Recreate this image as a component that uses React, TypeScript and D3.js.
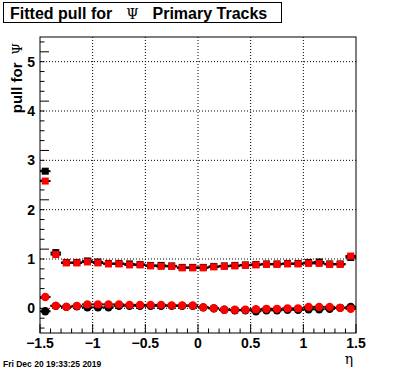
import React from "react";
import * as d3 from "d3";

// eta bins: 30 bins of width 0.1 between -1.5 and 1.5
const binEdges = d3.range(-1.5, 1.5001, 0.1);
const binCenters = binEdges.slice(0, -1).map((e, i) => (e + binEdges[i + 1]) / 2);

// fitted sigma of the pull (squares)
const sigmaBlack = [
  2.78, 1.13, 0.93, 0.93, 0.96, 0.94, 0.91, 0.91, 0.9, 0.89, 0.87, 0.87, 0.86, 0.83, 0.83,
  0.83, 0.85, 0.86, 0.87, 0.88, 0.89, 0.9, 0.9, 0.91, 0.91, 0.93, 0.94, 0.9, 0.9, 1.03,
];
const sigmaRed = [
  2.58, 1.09, 0.92, 0.92, 0.94, 0.92, 0.9, 0.9, 0.88, 0.88, 0.86, 0.85, 0.85, 0.82, 0.82,
  0.82, 0.84, 0.85, 0.86, 0.87, 0.88, 0.89, 0.89, 0.9, 0.9, 0.91, 0.91, 0.89, 0.89, 1.06,
];
// fitted mean of the pull (circles)
const meanBlack = [
  -0.06, 0.05, 0.03, 0.04, 0.02, 0.02, 0.02, 0.05, 0.05, 0.05, 0.05, 0.05, 0.05, 0.05, 0.05,
  0.02, 0.0, -0.03, -0.04, -0.04, -0.06, -0.04, -0.04, -0.03, -0.03, -0.02, -0.02, -0.01, 0.01, 0.03,
];
const meanRed = [
  0.23, 0.05, 0.03, 0.05, 0.08, 0.08, 0.08, 0.08, 0.07, 0.07, 0.07, 0.07, 0.06, 0.06, 0.06,
  0.02, 0.0, -0.03, -0.03, -0.03, -0.02, -0.01, -0.01, 0.0, 0.0, 0.03, 0.03, 0.03, 0.01, -0.01,
];

const xMajor = [-1.5, -1, -0.5, 0, 0.5, 1, 1.5];
const yMajor = [0, 1, 2, 3, 4, 5];

const W = 396;
const H = 372;
const left = 40;
const right = 356;
const top = 37;
const bottom = 333;

const fmt = (v: number) => (v < 0 ? "\u2212" + Math.abs(v) : String(v));

export default function App() {
  const x = d3.scaleLinear().domain([-1.5, 1.5]).range([left, right]);
  const y = d3.scaleLinear().domain([-0.5, 5.5]).range([bottom, top]);
  const xMinor = d3.range(-15, 16).map((i) => i / 10);
  const yMinor = d3.range(-2, 28).map((i) => i / 5);
  const half = (x(0.1) - x(0)) / 2;
  const font = "'Liberation Sans', Arial, sans-serif";
  const serif = "'DejaVu Serif', serif";
  const sq = 7;

  const errLines = (vals: number[], key: string) =>
    vals.map((v, i) => (
      <line
        key={key + i}
        x1={x(binCenters[i]) - half}
        x2={x(binCenters[i]) + half}
        y1={y(v)}
        y2={y(v)}
        stroke="#000"
        strokeWidth={2}
      />
    ));

  const squares = (vals: number[], color: string, key: string) =>
    vals.map((v, i) => (
      <rect
        key={key + i}
        x={x(binCenters[i]) - sq / 2}
        y={y(v) - sq / 2}
        width={sq}
        height={sq}
        fill={color}
      />
    ));

  const circles = (vals: number[], color: string, key: string) =>
    vals.map((v, i) => (
      <circle key={key + i} cx={x(binCenters[i])} cy={y(v)} r={4.2} fill={color} />
    ));

  return (
    <svg width={W} height={H} style={{ position: "absolute", left: 0, top: 0, background: "#fff" }}>
      <rect width={W} height={H} fill="#fff" />
      {/* title box */}
      <rect x={3.5} y={2.5} width={278} height={20} fill="#fff" stroke="#000" strokeWidth={1} />
      <text x={10} y={18.5} fontFamily={font} fontWeight="bold" fontSize={16} fill="#000">
        Fitted pull for
        <tspan dx={14} fontFamily={serif} fontWeight="normal" fontSize={14}>
          Ψ
        </tspan>
        <tspan dx={14}>Primary Tracks</tspan>
      </text>

      {/* grid */}
      {xMajor.slice(1, -1).map((t) => (
        <line key={"gx" + t} x1={x(t)} x2={x(t)} y1={top} y2={bottom} stroke="#000" strokeDasharray="1,2" />
      ))}
      {yMajor.map((t) => (
        <line key={"gy" + t} x1={left} x2={right} y1={y(t)} y2={y(t)} stroke="#000" strokeDasharray="1,2" />
      ))}

      {/* ticks */}
      {xMinor.map((t, i) => (
        <line
          key={"xt" + i}
          x1={x(t)}
          x2={x(t)}
          y1={bottom}
          y2={bottom - (i % 5 === 0 ? 9 : 4.5)}
          stroke="#000"
        />
      ))}
      {yMinor.map((t, i) => (
        <line
          key={"yt" + i}
          x1={left}
          x2={left + ((i + 2) % 5 === 0 ? 9 : 4.5)}
          y1={y(t)}
          y2={y(t)}
          stroke="#000"
        />
      ))}

      {/* data */}
      {errLines(sigmaBlack, "eb")}
      {errLines(sigmaRed, "er")}
      {errLines(meanBlack, "mb")}
      {errLines(meanRed, "mr")}
      {squares(sigmaBlack, "#000", "sb")}
      {circles(meanBlack, "#000", "cb")}
      {squares(sigmaRed, "#f00", "sr")}
      {circles(meanRed, "#f00", "cr")}

      {/* frame */}
      <rect x={left} y={top} width={right - left} height={bottom - top} fill="none" stroke="#000" strokeWidth={1} />

      {/* tick labels */}
      {xMajor.map((t) => (
        <text
          key={"xl" + t}
          x={x(t)}
          y={348}
          textAnchor="middle"
          fontFamily={font}
          fontWeight="bold"
          fontSize={14}
          fill="#000"
        >
          {fmt(t)}
        </text>
      ))}
      {yMajor.map((t) => (
        <text
          key={"yl" + t}
          x={35}
          y={y(t) + 5}
          textAnchor="end"
          fontFamily={font}
          fontWeight="bold"
          fontSize={14}
          fill="#000"
        >
          {t}
        </text>
      ))}

      {/* axis titles */}
      <text
        transform={`translate(22,43) rotate(-90)`}
        textAnchor="end"
        fontFamily={font}
        fontWeight="bold"
        fontSize={15}
        fill="#000"
      >
        pull for
        <tspan dx={8} fontFamily={serif} fontWeight="normal" fontSize={13}>
          Ψ
        </tspan>
      </text>
      <text x={349} y={364} textAnchor="middle" fontFamily={serif} fontSize={14} fill="#000">
        η
      </text>
      <text x={3} y={367} fontFamily={font} fontWeight="bold" fontSize={8.5} fill="#000">
        Fri Dec 20 19:33:25 2019
      </text>
    </svg>
  );
}
